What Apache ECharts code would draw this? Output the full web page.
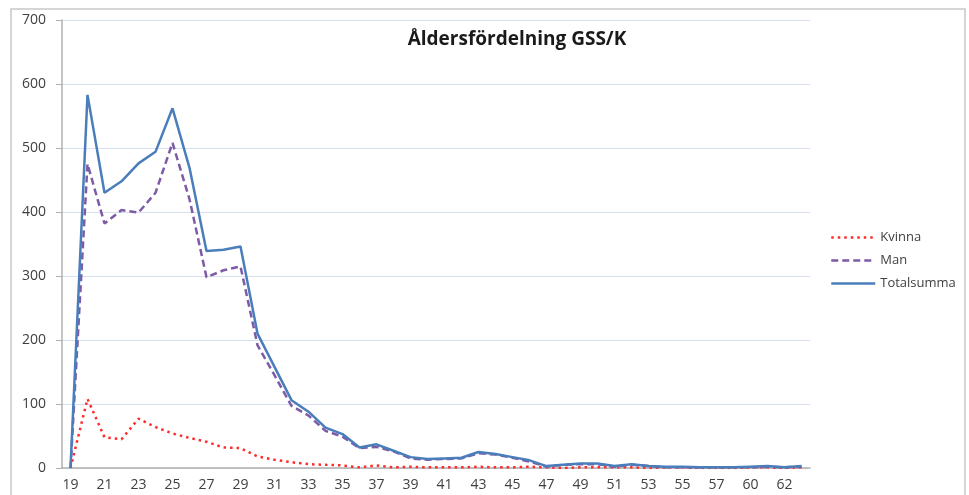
<!DOCTYPE html>
<html><head><meta charset="utf-8">
<script src="https://cdn.jsdelivr.net/npm/echarts@6/dist/echarts.min.js"></script>
<style>html,body{margin:0;padding:0;background:#fff}#c{width:969px;height:495px}</style>
</head><body><div id="c"></div>
<script>
const ages = ['19','20','21','22','23','24','25','26','27','28','29','30','31','32','33','34','35','36','37','38','39','40','41','42','43','44','45','46','47','48','49','50','51','52','53','54','55','56','57','58','60','61','62','63'];
const kvinna = [0,108,48,45,77,64,54,47,41,32,31,18,13,9,6,5,4,1,4,1,2,1,1,1,2,1,1,2,1,0,1,1,1,1,0,1,1,0,0,0,1,1,0,1];
const man = [0,475,382,403,399,430,508,420,298,309,315,192,145,97,82,58,49,31,33,26,15,13,14,15,23,21,16,10,2,5,6,6,2,5,3,1,1,1,1,1,1,2,1,2];
const total = [0,583,430,448,476,494,562,469,339,341,346,210,158,106,88,63,53,32,37,27,17,14,15,16,25,22,17,12,3,5,7,7,3,6,3,2,2,1,1,1,2,3,1,3];
const yTicks = {min:0, max:700, interval:100};

const chart = echarts.init(document.getElementById('c'));
const txt = '#404040';
const ff = '"Open Sans", "Noto Sans", sans-serif';
chart.setOption({
  animation:false,
  graphic:[{type:'rect', shape:{x:11, y:9, width:954, height:500}, style:{fill:'none', stroke:'#c8c8c8', lineWidth:1.5}, silent:true}],
  title:{text:'Åldersfördelning GSS/K', left:512, top:25, textAlign:'center',
    textStyle:{fontFamily:ff, fontWeight:'bold', fontSize:19, color:'#1a1a1a'}},
  legend:{orient:'vertical', left:825, top:226, itemWidth:44, itemHeight:14, itemGap:10,
    itemStyle:{opacity:0}, lineStyle:{width:2.5},
    textStyle:{fontFamily:ff, fontSize:13, color:txt},
    data:['Kvinna','Man','Totalsumma']},
  grid:{left:62, right:159, top:20, bottom:27},
  xAxis:{type:'category', data:ages, boundaryGap:true,
    axisLine:{lineStyle:{color:'#b0b0b0', width:1.5}},
    axisTick:{interval:0, length:5, lineStyle:{color:'#b0b0b0'}},
    axisLabel:{interval:1, margin:10, fontFamily:ff, fontSize:14, color:txt}},
  yAxis:{type:'value', min:yTicks.min, max:yTicks.max, interval:yTicks.interval,
    axisLine:{show:true, lineStyle:{color:'#b0b0b0', width:1.5}},
    axisTick:{show:true, length:6, lineStyle:{color:'#b0b0b0'}},
    splitLine:{lineStyle:{color:'#d6e0f0', width:1}},
    axisLabel:{margin:16, fontFamily:ff, fontSize:14, color:txt}},
  series:[
    {name:'Kvinna', type:'line', data:kvinna, symbol:'none', color:'#ff2a2a',
      lineStyle:{color:'#ff2a2a', width:2.5, type:[2.5,4]}},
    {name:'Man', type:'line', data:man, symbol:'none', color:'#7d5ba6',
      lineStyle:{color:'#7d5ba6', width:2.5, type:[7,4]}},
    {name:'Totalsumma', type:'line', data:total, symbol:'none', color:'#4a7ebb',
      lineStyle:{color:'#4a7ebb', width:2.5}}
  ]
});
</script></body></html>
